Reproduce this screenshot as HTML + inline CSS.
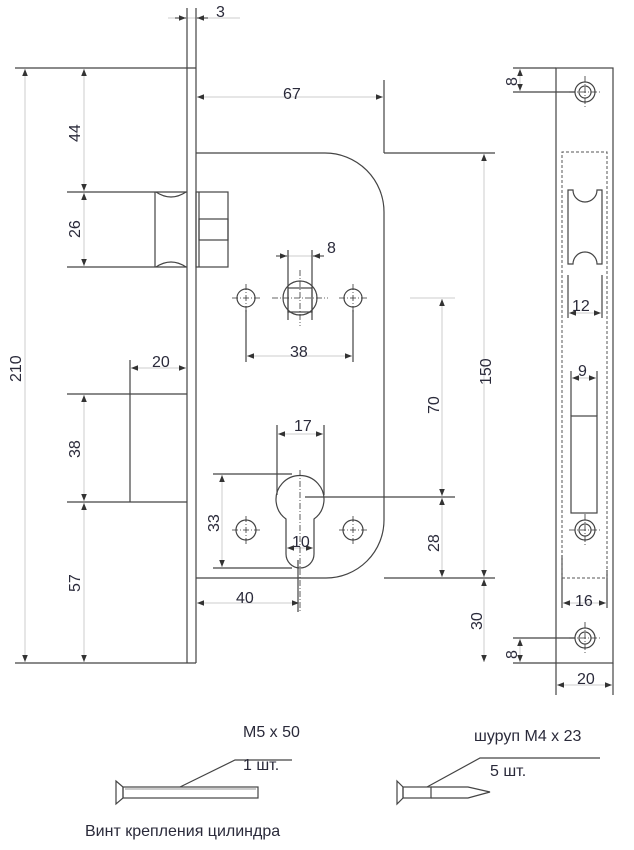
<!DOCTYPE html>
<html><head><meta charset="utf-8"><style>
html,body{margin:0;padding:0;background:#fff}
svg{display:block}
text{font-family:"Liberation Sans",sans-serif;font-size:16px;fill:#2a2a3a}
</style></head><body>
<svg width="634" height="850" viewBox="0 0 634 850" xmlns="http://www.w3.org/2000/svg">
<defs>
<marker id="a" viewBox="0 0 10 10" refX="10" refY="5" markerWidth="7" markerHeight="7" orient="auto-start-reverse"><path d="M0,1 L10,5 L0,9 z" fill="#333"/></marker>
</defs>
<g stroke="#ccc" stroke-width="1" fill="none" marker-start="url(#a)" marker-end="url(#a)">
<line x1="25" y1="69" x2="25" y2="662"/>
<line x1="84" y1="69" x2="84" y2="191"/>
<line x1="84" y1="193" x2="84" y2="266"/>
<line x1="84" y1="395" x2="84" y2="501"/>
<line x1="84" y1="503" x2="84" y2="662"/>
<line x1="197" y1="97" x2="383" y2="97"/>
<line x1="131" y1="368" x2="186" y2="368"/>
<line x1="247" y1="356" x2="352" y2="356"/>
<line x1="484" y1="154" x2="484" y2="577"/>
<line x1="484" y1="579" x2="484" y2="662"/>
<line x1="442" y1="299" x2="442" y2="496"/>
<line x1="442" y1="498" x2="442" y2="577"/>
<line x1="278" y1="434" x2="323" y2="434"/>
<line x1="222" y1="475" x2="222" y2="567"/>
<line x1="287" y1="548" x2="313" y2="548"/>
<line x1="197" y1="603" x2="299" y2="603"/>
<line x1="569" y1="313" x2="601" y2="313"/>
<line x1="572" y1="378" x2="596" y2="378"/>
<line x1="563" y1="603" x2="606" y2="603"/>
<line x1="557" y1="685" x2="612" y2="685"/>
<line x1="520" y1="69" x2="520" y2="91"/>
<line x1="520" y1="639" x2="520" y2="662"/>
</g>
<g stroke="#ccc" fill="none" stroke-width="1">
<line x1="168" y1="18" x2="240" y2="18"/>
<line x1="276" y1="256" x2="324" y2="256"/>
<line x1="410" y1="298" x2="455" y2="298"/>
</g>
<g stroke="#333" fill="none" stroke-width="1" marker-end="url(#a)">
<line x1="175" y1="18" x2="186" y2="18"/>
<line x1="208" y1="18" x2="197" y2="18"/>
<line x1="276" y1="256" x2="287" y2="256"/>
<line x1="324" y1="256" x2="313" y2="256"/>
</g>
<g stroke="#444" fill="none" stroke-width="1.2">
<line x1="187" y1="8" x2="187" y2="663"/>
<line x1="196" y1="8" x2="196" y2="663"/>
<line x1="15" y1="68" x2="196" y2="68"/>
<line x1="15" y1="663" x2="196" y2="663"/>
<path d="M196,153 H325 A59,59 0 0 1 384,212 V520 A58,58 0 0 1 326,578 H196"/>
<line x1="384" y1="80" x2="384" y2="153"/>
<line x1="384" y1="153" x2="495" y2="153"/>
<line x1="384" y1="578" x2="495" y2="578"/>
<line x1="305" y1="497" x2="455" y2="497"/>
<line x1="67" y1="192" x2="187" y2="192"/>
<line x1="67" y1="267" x2="187" y2="267"/>
<line x1="155" y1="192" x2="155" y2="267"/>
<path d="M156,192 Q171,202 186,192 M156,267 Q171,257 186,267"/>
<rect x="196" y="192" width="32" height="75"/>
<rect x="199" y="219" width="29" height="21"/>
<line x1="199" y1="192" x2="199" y2="267"/>
<line x1="67" y1="394" x2="187" y2="394"/>
<line x1="67" y1="502" x2="187" y2="502"/>
<line x1="130" y1="360" x2="130" y2="502"/>
<circle cx="246" cy="298" r="9"/>
<circle cx="353" cy="298" r="9"/>
<circle cx="300" cy="298" r="17"/>
<rect x="288" y="288" width="24" height="24"/>
<line x1="288" y1="250" x2="288" y2="320"/>
<line x1="312" y1="250" x2="312" y2="320"/>
<line x1="246" y1="310" x2="246" y2="362"/>
<line x1="353" y1="310" x2="353" y2="362"/>
<path d="M286,519 A24,24 0 1 1 314,519 V554 A14,14 0 0 1 286,554 Z"/>
<circle cx="246" cy="530" r="10"/>
<circle cx="353" cy="530" r="10"/>
<line x1="277" y1="425" x2="277" y2="495"/>
<line x1="324" y1="425" x2="324" y2="495"/>
<line x1="213" y1="474" x2="292" y2="474"/>
<line x1="213" y1="568" x2="292" y2="568"/>
<line x1="298" y1="560" x2="298" y2="612"/>
<rect x="556" y="68" width="57" height="595"/>
<line x1="513" y1="68" x2="556" y2="68"/>
<line x1="513" y1="92" x2="575" y2="92"/>
<line x1="513" y1="638" x2="575" y2="638"/>
<line x1="513" y1="663" x2="556" y2="663"/>
<line x1="556" y1="663" x2="556" y2="695"/>
<line x1="613" y1="663" x2="613" y2="695"/>
<circle cx="585" cy="92" r="10"/><circle cx="585" cy="92" r="6"/>
<circle cx="585" cy="530" r="10"/><circle cx="585" cy="530" r="6"/>
<circle cx="585" cy="638" r="10"/><circle cx="585" cy="638" r="6"/>
<path d="M568,190 H573 A12,12 0 0 0 597,190 H602 V264 H597 A12,12 0 0 0 573,264 H568 Z"/>
<line x1="568" y1="275" x2="568" y2="318"/>
<line x1="602" y1="275" x2="602" y2="318"/>
<rect x="571" y="416" width="26" height="97"/>
<line x1="571" y1="371" x2="571" y2="416"/>
<line x1="597" y1="371" x2="597" y2="416"/>
<line x1="562" y1="555" x2="562" y2="608"/>
<line x1="607" y1="570" x2="607" y2="608"/>
<path d="M116,781 L123,787 L123,798 L116,804 Z"/>
<rect x="123" y="787" width="135" height="11"/>
<line x1="125" y1="789" x2="256" y2="789" stroke="#aaa"/>
<polyline points="180,787 235,760 292,760"/>
<path d="M397,781 L403,787 L403,798 L397,804 Z"/>
<rect x="403" y="787" width="28" height="11"/>
<path d="M431,787 H468 L490,792 L468,798 H431"/>
<polyline points="427,787 480,758 600,758"/>
</g>
<g stroke="#555" fill="none" stroke-width="1" stroke-dasharray="3,2">
<path d="M562,578 V152 H607 V578"/>
<line x1="562" y1="578" x2="607" y2="578"/>
</g>
<g stroke="#333" fill="none" stroke-width="0.8" stroke-dasharray="6,2,1,2">
<line x1="300" y1="270" x2="300" y2="326"/><line x1="272" y1="298" x2="328" y2="298"/>
<line x1="232" y1="298" x2="260" y2="298"/><line x1="339" y1="298" x2="367" y2="298"/>
<line x1="246" y1="284" x2="246" y2="312"/><line x1="353" y1="284" x2="353" y2="312"/>
<line x1="232" y1="530" x2="260" y2="530"/><line x1="339" y1="530" x2="367" y2="530"/>
<line x1="246" y1="516" x2="246" y2="544"/><line x1="353" y1="516" x2="353" y2="544"/>
<line x1="300" y1="470" x2="300" y2="612"/>
<line x1="585" y1="76" x2="585" y2="108"/><line x1="569" y1="92" x2="601" y2="92"/>
<line x1="585" y1="514" x2="585" y2="546"/><line x1="569" y1="530" x2="601" y2="530"/>
<line x1="585" y1="622" x2="585" y2="654"/><line x1="569" y1="638" x2="601" y2="638"/>
</g>
<g>
<text x="216" y="17">3</text>
<text x="283" y="99">67</text>
<text x="327" y="253">8</text>
<text x="290" y="357">38</text>
<text x="152" y="367">20</text>
<text x="294" y="431">17</text>
<text x="292" y="547">10</text>
<text x="236" y="603">40</text>
<text x="572" y="311">12</text>
<text x="578" y="376">9</text>
<text x="575" y="606">16</text>
<text x="577" y="684">20</text>
<text x="243" y="737">M5 x 50</text>
<text x="243" y="770">1 шт.</text>
<text x="474" y="741">шуруп M4 x 23</text>
<text x="490" y="776">5 шт.</text>
<text x="85" y="836">Винт крепления цилиндра</text>
<text transform="translate(21,382) rotate(-90)">210</text>
<text transform="translate(80,142) rotate(-90)">44</text>
<text transform="translate(80,238) rotate(-90)">26</text>
<text transform="translate(80,458) rotate(-90)">38</text>
<text transform="translate(80,592) rotate(-90)">57</text>
<text transform="translate(491,385) rotate(-90)">150</text>
<text transform="translate(439,414) rotate(-90)">70</text>
<text transform="translate(439,552) rotate(-90)">28</text>
<text transform="translate(482,630) rotate(-90)">30</text>
<text transform="translate(219,532) rotate(-90)">33</text>
<text transform="translate(517,86) rotate(-90)">8</text>
<text transform="translate(517,659) rotate(-90)">8</text>
</g>
</svg>
</body></html>
